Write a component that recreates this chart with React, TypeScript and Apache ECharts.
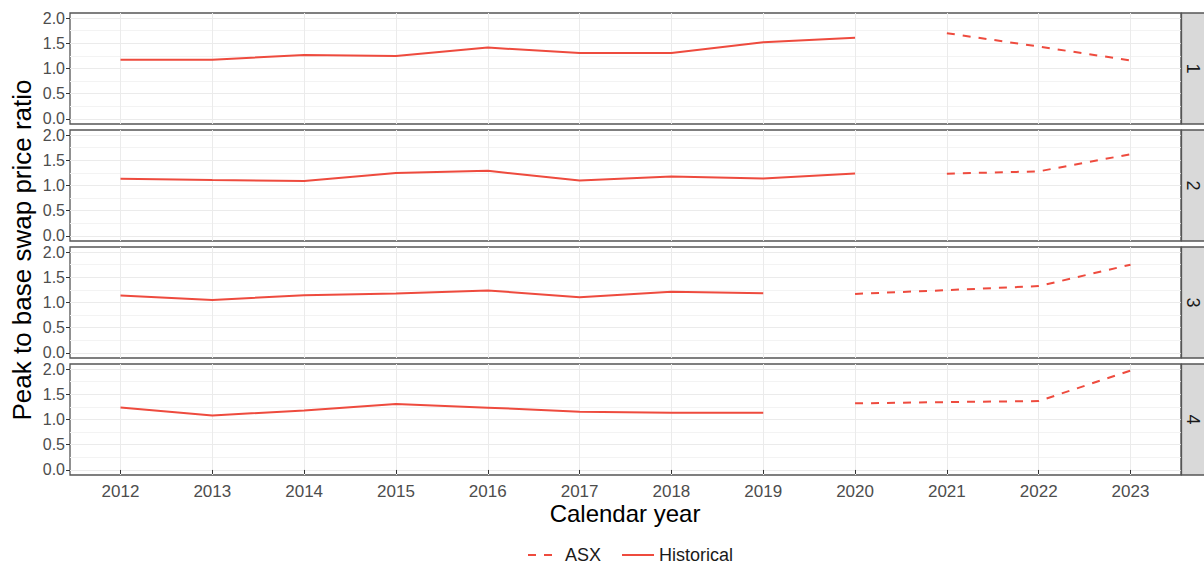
import React, { useEffect, useRef } from "react";
import * as echarts from "echarts";

const years = [2012, 2013, 2014, 2015, 2016, 2017, 2018, 2019, 2020, 2021, 2022, 2023];
const yTicks = [0, 0.5, 1.0, 1.5, 2.0];
const yMinor = [0.25, 0.75, 1.25, 1.75];
const panels = ["1", "2", "3", "4"];

const hist1 = [1.175, 1.175, 1.27, 1.25, 1.415, 1.305, 1.305, 1.52, 1.61, null, null, null];
const asx1 = [null, null, null, null, null, null, null, null, null, 1.7, 1.435, 1.16];
const hist2 = [1.136, 1.11, 1.09, 1.25, 1.29, 1.1, 1.18, 1.14, 1.24, null, null, null];
const asx2 = [null, null, null, null, null, null, null, null, null, 1.235, 1.28, 1.62];
const hist3 = [1.14, 1.05, 1.145, 1.18, 1.24, 1.105, 1.215, 1.185, null, null, null, null];
const asx3 = [null, null, null, null, null, null, null, null, 1.17, 1.245, 1.325, 1.75];
const hist4 = [1.24, 1.08, 1.18, 1.305, 1.235, 1.155, 1.135, 1.135, null, null, null, null];
const asx4 = [null, null, null, null, null, null, null, null, 1.32, 1.345, 1.365, 1.97];

const histAll = [hist1, hist2, hist3, hist4];
const asxAll = [asx1, asx2, asx3, asx4];

const FONT = "'Liberation Sans', Arial, sans-serif";
const RED = "#EE4B3E";

function pairs(vals: (number | null)[]) {
  const out: [number, number][] = [];
  vals.forEach((v, i) => {
    if (v !== null) out.push([years[i], v]);
  });
  return out;
}

export default function App() {
  const ref = useRef<HTMLDivElement>(null);
  useEffect(() => {
    if (!ref.current) return;
    const chart = echarts.init(ref.current, null, { renderer: "svg" });
    const tops = [13, 130, 247, 364];
    const H = 111;
    const grids: any[] = [];
    const xAxes: any[] = [];
    const yAxes: any[] = [];
    const series: any[] = [];
    const graphics: any[] = [];

    tops.forEach((top, i) => {
      const last = i === tops.length - 1;
      grids.push({
        left: 70,
        right: 23,
        top,
        height: H,
        show: true,
        borderColor: "#555555",
        borderWidth: 1.3,
        backgroundColor: "#ffffff",
      });
      xAxes.push({
        type: "value",
        gridIndex: i,
        min: 2011.45,
        max: 2023.55,
        axisLine: { show: false },
        axisTick: {
          show: last,
          customValues: years,
          length: 4,
          lineStyle: { color: "#333333", width: 1 },
        },
        axisLabel: {
          show: last,
          customValues: years,
          color: "#4d4d4d",
          fontSize: 17,
          fontFamily: FONT,
          margin: 8,
          formatter: (v: number) => String(Math.round(v)),
        },
        splitLine: { show: true, lineStyle: { color: "#ebebeb", width: 1 } },
      });
      yAxes.push({
        type: "value",
        gridIndex: i,
        min: -0.1,
        max: 2.1,
        axisLine: { show: false },
        axisTick: {
          show: true,
          customValues: yTicks,
          length: 4,
          lineStyle: { color: "#333333", width: 1 },
        },
        axisLabel: {
          show: true,
          customValues: yTicks,
          color: "#4d4d4d",
          fontSize: 16,
          lineHeight: 15,
          fontFamily: FONT,
          margin: 5,
          formatter: (v: number) => v.toFixed(1),
        },
        splitLine: { show: true, lineStyle: { color: "#ebebeb", width: 1.2 } },
      });
      yAxes.push({
        type: "value",
        gridIndex: i,
        min: -0.1,
        max: 2.1,
        position: "left",
        axisLine: { show: false },
        axisTick: { show: false, customValues: yMinor },
        axisLabel: { show: false, customValues: yMinor },
        splitLine: { show: true, lineStyle: { color: "#f3f3f3", width: 1 } },
      });

      series.push({
        name: "ASX",
        type: "line",
        xAxisIndex: i,
        yAxisIndex: i * 2,
        data: pairs(asxAll[i]),
        symbol: "none",
        showSymbol: false,
        lineStyle: { color: RED, width: 2, type: [8, 8] },
        itemStyle: { color: RED },
        z: 5,
      });
      series.push({
        name: "Historical",
        type: "line",
        xAxisIndex: i,
        yAxisIndex: i * 2,
        data: pairs(histAll[i]),
        symbol: "none",
        showSymbol: false,
        lineStyle: { color: RED, width: 2, type: "solid" },
        itemStyle: { color: RED },
        z: 5,
      });

      graphics.push({
        type: "rect",
        shape: { x: 1181.5, y: top, width: 30, height: H },
        style: { fill: "#d9d9d9", stroke: "#555555", lineWidth: 1.3 },
        z: 10,
      });
      graphics.push({
        type: "text",
        x: 1193,
        y: top + H / 2,
        rotation: -Math.PI / 2,
        style: {
          text: panels[i],
          fill: "#1a1a1a",
          font: `18px ${FONT}`,
          textAlign: "center",
          textVerticalAlign: "middle",
        },
        z: 11,
      });
    });

    graphics.push({
      type: "text",
      x: 22,
      y: 250,
      rotation: Math.PI / 2,
      style: {
        text: "Peak to base swap price ratio",
        fill: "#000000",
        font: `26px ${FONT}`,
        textAlign: "center",
        textVerticalAlign: "middle",
      },
    });
    graphics.push({
      type: "text",
      x: 625,
      y: 513,
      style: {
        text: "Calendar year",
        fill: "#000000",
        font: `24px ${FONT}`,
        textAlign: "center",
        textVerticalAlign: "middle",
      },
    });

    chart.setOption({
      animation: false,
      backgroundColor: "#ffffff",
      grid: grids,
      xAxis: xAxes,
      yAxis: yAxes,
      series,
      graphic: graphics,
      legend: {
        data: ["ASX", "Historical"],
        left: 522,
        top: 541,
        itemWidth: 32,
        itemHeight: 20,
        itemGap: 20,
        itemStyle: { opacity: 0 },
        textStyle: { fontSize: 18, color: "#1a1a1a", fontFamily: FONT },
      },
    });
    return () => chart.dispose();
  }, []);
  return <div ref={ref} style={{ width: 1204, height: 565, position: "absolute", left: 0, top: 0 }} />;
}
